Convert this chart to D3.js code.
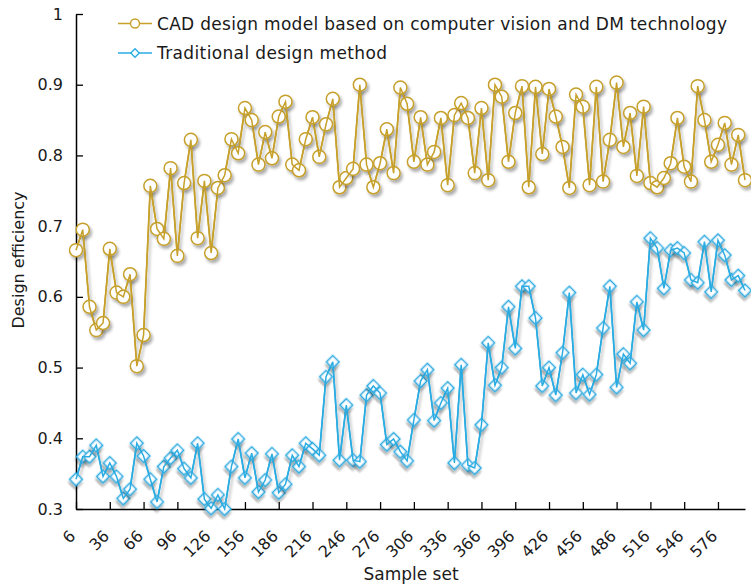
<!DOCTYPE html>
<html><head><meta charset="utf-8">
<script src="https://cdn.jsdelivr.net/npm/d3@7"></script>
<style>
body{margin:0;background:#fff;}
text{font-family:"DejaVu Sans",Verdana,sans-serif;fill:#1a1a1a;}
</style></head>
<body><svg id="c" width="751" height="587"></svg>
<script>
const sampleSet = [6,12,18,24,30,36,42,48,54,60,66,72,78,84,90,96,102,108,114,120,126,132,138,144,150,156,162,168,174,180,186,192,198,204,210,216,222,228,234,240,246,252,258,264,270,276,282,288,294,300,306,312,318,324,330,336,342,348,354,360,366,372,378,384,390,396,402,408,414,420,426,432,438,444,450,456,462,468,474,480,486,492,498,504,510,516,522,528,534,540,546,552,558,564,570,576,582,588,594,600];
const cadModel = [0.666,0.695,0.586,0.553,0.563,0.668,0.606,0.600,0.632,0.502,0.546,0.757,0.696,0.682,0.782,0.658,0.761,0.822,0.683,0.764,0.662,0.754,0.772,0.823,0.803,0.867,0.850,0.787,0.833,0.796,0.855,0.876,0.787,0.779,0.823,0.854,0.798,0.844,0.880,0.755,0.768,0.781,0.900,0.787,0.755,0.789,0.837,0.775,0.896,0.873,0.791,0.854,0.787,0.805,0.853,0.758,0.857,0.874,0.853,0.775,0.867,0.765,0.900,0.883,0.791,0.860,0.898,0.755,0.897,0.802,0.894,0.855,0.812,0.754,0.886,0.869,0.758,0.897,0.763,0.822,0.903,0.812,0.860,0.771,0.869,0.761,0.755,0.768,0.789,0.853,0.784,0.763,0.898,0.850,0.791,0.815,0.846,0.787,0.829,0.765];
const traditional = [0.342,0.374,0.374,0.390,0.346,0.365,0.346,0.315,0.328,0.393,0.375,0.342,0.310,0.360,0.372,0.383,0.357,0.344,0.393,0.314,0.301,0.320,0.300,0.360,0.399,0.344,0.379,0.324,0.341,0.378,0.323,0.335,0.376,0.360,0.393,0.385,0.376,0.487,0.508,0.369,0.447,0.369,0.367,0.461,0.474,0.464,0.391,0.399,0.381,0.368,0.426,0.481,0.497,0.425,0.450,0.471,0.365,0.504,0.362,0.358,0.419,0.535,0.475,0.500,0.586,0.527,0.615,0.615,0.570,0.474,0.500,0.461,0.521,0.606,0.464,0.490,0.462,0.490,0.556,0.615,0.472,0.519,0.506,0.593,0.553,0.683,0.669,0.612,0.666,0.669,0.662,0.624,0.620,0.678,0.607,0.680,0.659,0.624,0.630,0.609];
const xTicks = [6,36,66,96,126,156,186,216,246,276,306,336,366,396,426,456,486,516,546,576];
const yTicks = [0.3,0.4,0.5,0.6,0.7,0.8,0.9,1];
const seriesNames = ["CAD design model based on computer vision and DM technology","Traditional design method"];
const colors = ["#C6A02A","#2AACE2"];

const svg = d3.select("#c");
const defs = svg.append("defs");
const f = defs.append("filter").attr("id","sh").attr("x","-50%").attr("y","-50%").attr("width","200%").attr("height","200%");
f.append("feDropShadow").attr("dx",2).attr("dy",3).attr("stdDeviation",1.6).attr("flood-color","#000").attr("flood-opacity",0.32);

const x = d3.scaleLinear().domain([6,600]).range([76,745]);
const y = d3.scaleLinear().domain([0.3,1]).range([509,14]);

// axes
const xAxis = svg.append("g").attr("transform","translate(0,509)")
  .call(d3.axisBottom(x).tickValues(xTicks).tickSizeInner(-7).tickSizeOuter(0).tickFormat(d3.format("d")));
xAxis.select(".domain").attr("stroke","#000").attr("stroke-width",1.5);
xAxis.selectAll(".tick line").attr("stroke","#000").attr("stroke-width",1.3);
xAxis.selectAll(".tick text").attr("font-size",16).attr("text-anchor","end")
  .attr("x",0).attr("y",0).attr("dy",0)
  .attr("transform","translate(0,28) rotate(-45)");

const yAxis = svg.append("g").attr("transform","translate(76,0)")
  .call(d3.axisLeft(y).tickValues(yTicks).tickSizeInner(-7).tickSizeOuter(0).tickFormat(d3.format("")));
yAxis.select(".domain").attr("stroke","#000").attr("stroke-width",1.5);
yAxis.selectAll(".tick line").attr("stroke","#000").attr("stroke-width",1.3);
yAxis.selectAll(".tick text").attr("font-size",16).attr("x",-13);

svg.append("text").attr("x",411).attr("y",580).attr("text-anchor","middle").attr("font-size",17).text("Sample set");
svg.append("text").attr("transform","translate(24,260) rotate(-90)").attr("text-anchor","middle").attr("font-size",16).text("Design efficiency");

const line = d3.line().x((d,i)=>x(sampleSet[i])).y(d=>y(d));
const diamond = d3.symbol().type(d3.symbolSquare).size(80);

// gold series
const g1 = svg.append("g");
g1.append("path").datum(cadModel).attr("d",line).attr("fill","none").attr("stroke",colors[0]).attr("stroke-width",1.6).attr("filter","url(#sh)");
g1.selectAll("circle").data(cadModel).join("circle")
  .attr("cx",(d,i)=>x(sampleSet[i])).attr("cy",d=>y(d)).attr("r",6.5)
  .attr("fill","#fff").attr("stroke",colors[0]).attr("stroke-width",1.5).attr("filter","url(#sh)");
g1.append("path").datum(cadModel).attr("d",line).attr("fill","none").attr("stroke",colors[0]).attr("stroke-width",1.5);

// blue series
const g2 = svg.append("g");
g2.append("path").datum(traditional).attr("d",line).attr("fill","none").attr("stroke",colors[1]).attr("stroke-width",1.6).attr("filter","url(#sh)");
g2.selectAll("path.m").data(traditional).join("path").attr("class","m")
  .attr("d",diamond)
  .attr("transform",(d,i)=>`translate(${x(sampleSet[i])},${y(d)}) rotate(45)`)
  .attr("fill","#fff").attr("stroke",colors[1]).attr("stroke-width",1.6).attr("filter","url(#sh)");
g2.append("path").datum(traditional).attr("d",line).attr("fill","none").attr("stroke",colors[1]).attr("stroke-width",1.5);

// legend
const leg = svg.append("g");
const legWidths = [570, 230];
seriesNames.forEach((name,k)=>{
  const ly = k===0 ? 23.5 : 53;
  leg.append("line").attr("x1",118).attr("x2",152).attr("y1",ly).attr("y2",ly).attr("stroke",colors[k]).attr("stroke-width",1.5);
  if(k===0){
    leg.append("circle").attr("cx",135).attr("cy",ly).attr("r",4.5).attr("fill","#fff").attr("stroke",colors[k]).attr("stroke-width",1.4);
  } else {
    leg.append("path").attr("d",d3.symbol().type(d3.symbolSquare).size(36)).attr("transform",`translate(135,${ly}) rotate(45)`)
      .attr("fill","#fff").attr("stroke",colors[k]).attr("stroke-width",1.4);
  }
  leg.append("text").attr("x",157).attr("y",ly).attr("dy","0.36em").attr("font-size",17)
    .attr("textLength",legWidths[k]).attr("lengthAdjust","spacing").text(name);
});
</script></body></html>
